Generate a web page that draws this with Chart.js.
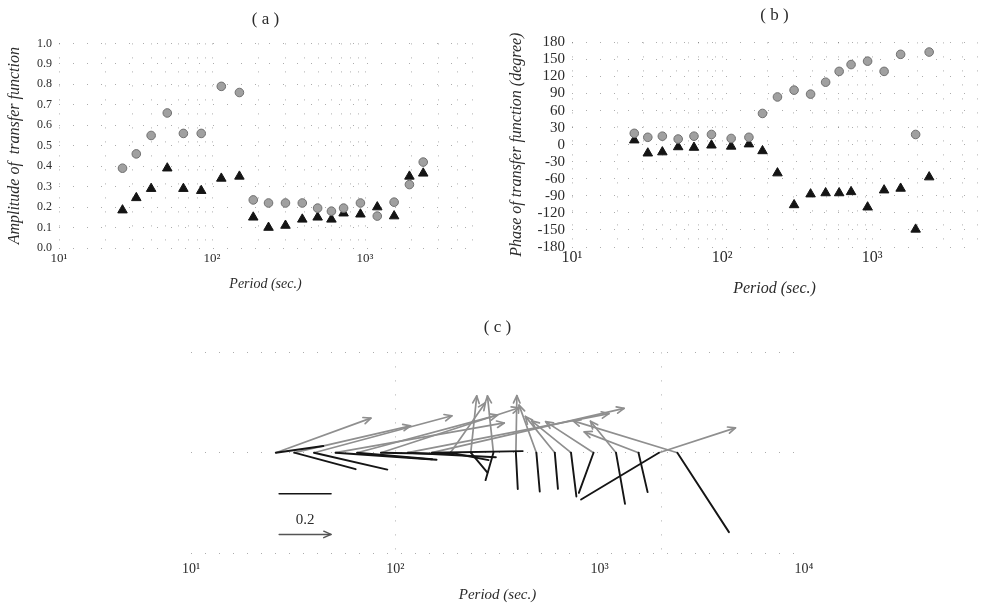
<!DOCTYPE html>
<html>
<head>
<meta charset="utf-8">
<script src="https://cdn.jsdelivr.net/npm/chart.js@4.4.0/dist/chart.umd.min.js"></script>
<style>
  html, body { margin: 0; padding: 0; background: #fff; }
  #wrap { position: relative; width: 984px; height: 606px; overflow: hidden; }
  canvas { position: absolute; }
</style>
</head>
<body>
<div id="wrap">
  <canvas id="ampChart" width="500" height="300" style="left:0;top:0;width:500px;height:300px"></canvas>
  <canvas id="phaseChart" width="484" height="300" style="left:500px;top:0;width:484px;height:300px"></canvas>
  <canvas id="vecChart" width="984" height="306" style="left:0;top:300px;width:984px;height:306px"></canvas>
</div>
<script>
// periods (sec.) of the transfer function estimates
const periods = [26, 32, 40, 51, 65, 85, 115, 151, 186, 234, 302, 389, 490, 603, 724, 933, 1202, 1549, 1950, 2400];

// grey circles
const ampA = [0.39, 0.46, 0.55, 0.66, 0.56, 0.56, 0.79, 0.76, 0.235, 0.22, 0.22, 0.22, 0.195, 0.18, 0.195, 0.22, 0.156, 0.224, 0.31, 0.42];
const phaseA = [20, 13, 15, 10, 15, 18, 11, 13, 55, 84, 96, 89, 110, 129, 141, 147, 129, 159, 18, 163];

// black triangles
const ampB = [0.185, 0.245, 0.29, 0.39, 0.29, 0.28, 0.34, 0.35, 0.15, 0.10, 0.11, 0.14, 0.15, 0.14, 0.17, 0.165, 0.20, 0.156, 0.35, 0.365];
const phaseB = [8, -15, -13, -4, -5, -1, -3, 1, -11, -50, -106, -87, -85, -85, -83, -110, -80, -77, -149, -57];

const gridTicks = [10, 20, 30, 40, 50, 60, 70, 80, 90, 100, 200, 300, 400, 500, 600, 700, 800, 900, 1000, 2000, 3000, 4000, 5000];
const decadeTicks = [10, 100, 1000, 2000, 10000];
const supDigits = ['\u2070', '\u00b9', '\u00b2', '\u00b3', '\u2074'];
const scaleBarValue = 0.2;
const vecRange = 0.3865;

Chart.defaults.font.family = "'Liberation Serif', 'DejaVu Serif', serif";
Chart.defaults.color = '#2b2b2b';

const serif = "'Liberation Serif', 'DejaVu Serif', serif";
const dotColor = 'rgba(0,0,0,0.32)';
const dotDash = [1, 13];

function decadeLabel(v) {
  const l = Math.log10(v);
  return Math.abs(l - Math.round(l)) < 1e-9 ? '10' + supDigits[Math.round(l)] : '';
}

function dottedGrid() {
  return { color: dotColor, lineWidth: 1, drawTicks: false };
}

function logX(max, labelSize, labelPad, titleSize, titleBottom, height) {
  return {
    type: 'logarithmic',
    min: 10,
    max,
    afterBuildTicks: (s) => { s.ticks = gridTicks.filter((v) => v <= max).map((v) => ({ value: v })); },
    afterFit: (s) => { s.height = height; },
    grid: dottedGrid(),
    border: { display: false, dash: dotDash },
    ticks: { autoSkip: false, maxRotation: 0, padding: labelPad, font: { size: labelSize }, callback: decadeLabel },
    title: { display: true, text: 'Period (sec.)', font: { size: titleSize, style: 'italic' }, padding: { top: 0, bottom: titleBottom } },
  };
}

function pointSets() {
  return [
    {
      label: 'circles',
      data: [],
      pointStyle: 'circle',
      pointRadius: 4.3,
      backgroundColor: '#a0a0a0',
      borderColor: '#707070',
      borderWidth: 1,
    },
    {
      label: 'triangles',
      data: [],
      pointStyle: 'triangle',
      pointRadius: 5.5,
      backgroundColor: '#141414',
      borderColor: '#141414',
      borderWidth: 1,
    },
  ];
}

// (a) amplitude
const ampSets = pointSets();
ampSets[0].data = periods.map((p, i) => ({ x: p, y: ampA[i] }));
ampSets[1].data = periods.map((p, i) => ({ x: p, y: ampB[i] }));

new Chart(document.getElementById('ampChart'), {
  type: 'scatter',
  data: { datasets: ampSets },
  options: {
    responsive: false,
    animation: false,
    layout: { padding: { right: 28 } },
    plugins: {
      legend: { display: false },
      tooltip: { enabled: false },
      title: { display: true, text: '( a )', fullSize: false, font: { size: 17, weight: 'normal' }, padding: { top: 9, bottom: 14 } },
    },
    scales: {
      x: logX(5000, 13, 3, 14, 7, 52),
      y: {
        min: 0,
        max: 1,
        afterFit: (s) => { s.width = 59; },
        grid: dottedGrid(),
        border: { display: false, dash: dotDash },
        ticks: { stepSize: 0.1, autoSkip: false, padding: 7, font: { size: 12 }, callback: (v) => v.toFixed(1) },
        title: { display: true, text: 'Amplitude of  transfer function', font: { size: 16, style: 'italic' }, padding: { top: 5, bottom: 0 } },
      },
    },
  },
});

// (b) phase
const phaseSets = pointSets();
phaseSets[0].data = periods.map((p, i) => ({ x: p, y: phaseA[i] }));
phaseSets[1].data = periods.map((p, i) => ({ x: p, y: phaseB[i] }));

new Chart(document.getElementById('phaseChart'), {
  type: 'scatter',
  data: { datasets: phaseSets },
  options: {
    responsive: false,
    animation: false,
    layout: { padding: { right: 7 } },
    plugins: {
      legend: { display: false },
      tooltip: { enabled: false },
      title: { display: true, text: '( b )', fullSize: false, font: { size: 17, weight: 'normal' }, padding: { top: 5, bottom: 17 } },
    },
    scales: {
      x: logX(5000, 16, 1, 16, 2, 53),
      y: {
        min: -180,
        max: 180,
        afterFit: (s) => { s.width = 72; },
        grid: dottedGrid(),
        border: { display: false, dash: dotDash },
        ticks: { stepSize: 30, autoSkip: false, padding: 7, font: { size: 15 } },
        title: { display: true, text: 'Phase of transfer function (degree)', font: { size: 16, style: 'italic' }, padding: { top: 7, bottom: 0 } },
      },
    },
  },
});

// (c) vectors drawn from the same amplitudes and phases
const vectorPlugin = {
  id: 'vectors',
  afterDatasetsDraw(chart) {
    const { ctx } = chart;
    const xs = chart.scales.x;
    const ys = chart.scales.y;
    const y0 = ys.getPixelForValue(0);
    const unit = y0 - ys.getPixelForValue(1);

    const seg = (x1, y1, x2, y2, color, width, head) => {
      ctx.strokeStyle = color;
      ctx.lineWidth = width;
      ctx.beginPath();
      ctx.moveTo(x1, y1);
      ctx.lineTo(x2, y2);
      ctx.stroke();
      if (head) {
        const ang = Math.atan2(y2 - y1, x2 - x1);
        ctx.beginPath();
        ctx.moveTo(x2 - 8 * Math.cos(ang - 0.42), y2 - 8 * Math.sin(ang - 0.42));
        ctx.lineTo(x2, y2);
        ctx.lineTo(x2 - 8 * Math.cos(ang + 0.42), y2 - 8 * Math.sin(ang + 0.42));
        ctx.stroke();
      }
    };

    ctx.save();
    ctx.lineCap = 'round';
    ctx.lineJoin = 'round';

    periods.forEach((p, i) => {
      const x0 = xs.getPixelForValue(p);
      const a = phaseA[i] * Math.PI / 180;
      seg(x0, y0, x0 + ampA[i] * Math.cos(a) * unit, y0 - ampA[i] * Math.sin(a) * unit, '#8f8f8f', 1.7, true);
    });
    periods.forEach((p, i) => {
      const x0 = xs.getPixelForValue(p);
      const a = phaseB[i] * Math.PI / 180;
      seg(x0, y0, x0 + ampB[i] * Math.cos(a) * unit, y0 - ampB[i] * Math.sin(a) * unit, '#151515', 1.9, false);
    });

    // scale bar
    const bx = xs.getPixelForValue(27);
    const len = scaleBarValue * unit;
    const yBar = ys.getPixelForValue(-0.158);
    const yArrow = ys.getPixelForValue(-0.315);
    seg(bx, yBar, bx + len, yBar, '#151515', 1.6, false);
    seg(bx, yArrow, bx + len, yArrow, '#555', 1.4, true);
    ctx.fillStyle = '#2b2b2b';
    ctx.font = '15px ' + serif;
    ctx.textAlign = 'center';
    ctx.textBaseline = 'middle';
    ctx.fillText(String(scaleBarValue), bx + len / 2, ys.getPixelForValue(-0.258));
    ctx.restore();
  },
};

new Chart(document.getElementById('vecChart'), {
  type: 'scatter',
  data: {
    datasets: [{ label: 'origins', data: periods.map((p) => ({ x: p, y: 0 })), pointRadius: 0 }],
  },
  options: {
    responsive: false,
    animation: false,
    layout: { padding: { right: 180 } },
    plugins: {
      legend: { display: false },
      tooltip: { enabled: false },
      title: { display: true, text: '( c )', fullSize: false, font: { size: 17, weight: 'normal' }, padding: { top: 17, bottom: 15 } },
    },
    scales: {
      x: {
        type: 'logarithmic',
        min: 10,
        max: 10000,
        afterBuildTicks: (s) => { s.ticks = decadeTicks.map((v) => ({ value: v })); },
        afterFit: (s) => { s.height = 53; },
        grid: {
          drawTicks: false,
          color: (c) => (c.tick && (c.tick.value === 100 || c.tick.value === 2000) ? dotColor : 'rgba(0,0,0,0)'),
        },
        border: { display: false, dash: dotDash },
        ticks: { autoSkip: false, maxRotation: 0, padding: 8, font: { size: 14 }, callback: decadeLabel },
        title: { display: true, text: 'Period (sec.)', font: { size: 15, style: 'italic' }, padding: { top: 0, bottom: 2 } },
      },
      y: {
        min: -vecRange,
        max: vecRange,
        afterBuildTicks: (s) => { s.ticks = [-vecRange, 0, vecRange].map((v) => ({ value: v })); },
        afterFit: (s) => { s.width = 191; },
        grid: { drawTicks: false, color: dotColor },
        border: { display: false, dash: dotDash },
        ticks: { display: false },
      },
    },
  },
  plugins: [vectorPlugin],
});
</script>
</body>
</html>
